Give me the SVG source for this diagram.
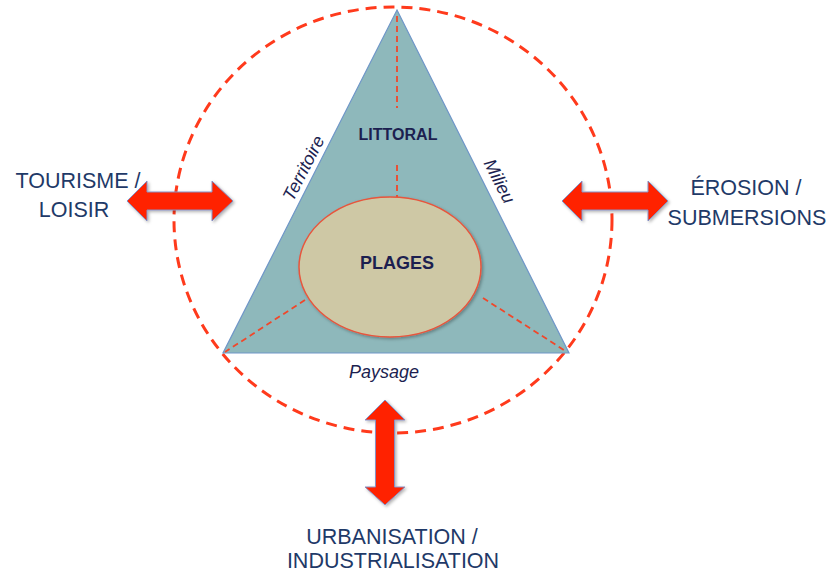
<svg xmlns="http://www.w3.org/2000/svg" width="828" height="574" viewBox="0 0 828 574">
<defs>
<filter id="sh" x="-20%" y="-20%" width="140%" height="140%">
<feDropShadow dx="1.5" dy="1.5" stdDeviation="1.5" flood-color="#000" flood-opacity="0.3"/>
</filter>
<style>
.lbl{font-family:"Liberation Sans",Arial,sans-serif;font-size:21.5px;fill:#1f3a68;text-anchor:middle}
.in{font-family:"Liberation Sans",Arial,sans-serif;font-weight:bold;fill:#1c1f50;text-anchor:middle}
.side{font-family:"Liberation Sans",Arial,sans-serif;font-style:italic;font-size:18px;fill:#1c1f50;text-anchor:middle}
.arrow{fill:#ff2400;stroke:#8790c4;stroke-width:1;filter:url(#sh)}
.dash{fill:none;stroke:#ff3a1c;stroke-width:3;stroke-dasharray:11 7}
.idash{fill:none;stroke:#f0472a;stroke-width:1.8;stroke-dasharray:6 4}
</style>
</defs>
<rect width="828" height="574" fill="#fff"/>
<g id="circle">
<ellipse class="dash" cx="393" cy="220" rx="219" ry="213"/>
</g>
<g id="littoral">
<polygon points="397,10 569,353 223,353" fill="#8eb8bb" stroke="#6f96c8" stroke-width="1.2"/>
<text class="in" x="398" y="140" font-size="16">LITTORAL</text>
</g>
<g id="connectors">
<line class="idash" x1="397" y1="16" x2="397" y2="108"/>
<line class="idash" x1="397" y1="165" x2="397" y2="197"/>
<line class="idash" x1="305" y1="300" x2="225" y2="352"/>
<line class="idash" x1="483" y1="298" x2="567" y2="352"/>
</g>
<g id="plages">
<ellipse cx="390" cy="267" rx="91" ry="70" fill="#cec8a5" stroke="#e8553c" stroke-width="1.5" filter="url(#sh)"/>
<text class="in" x="397" y="269" font-size="18">PLAGES</text>
</g>
<g id="labels">
<text class="side" transform="translate(309,171) rotate(-63)">Territoire</text>
<text class="side" transform="translate(494,184) rotate(63)">Milieu</text>
<text class="side" x="384" y="378" font-size="17">Paysage</text>
</g>
<g id="tourisme">
<path class="arrow" d="M127,201 L147,181 L147,192 L212,192 L212,181 L233,201 L212,221 L212,210 L147,210 L147,221 Z"/>
<text class="lbl" x="78" y="188">TOURISME /</text>
<text class="lbl" x="74" y="217">LOISIR</text>
</g>
<g id="erosion">
<path class="arrow" d="M562,201 L582,181 L582,192 L648,192 L648,181 L668,201 L648,221 L648,210 L582,210 L582,221 Z"/>
<text class="lbl" x="746" y="195">ÉROSION /</text>
<text class="lbl" x="747" y="225">SUBMERSIONS</text>
</g>
<g id="urbanisation">
<path class="arrow" d="M385,400 L405,420 L394.5,420 L394.5,487 L405,487 L385,505 L365,487 L375.5,487 L375.5,420 L365,420 Z"/>
<text class="lbl" x="392" y="544">URBANISATION /</text>
<text class="lbl" x="393" y="568">INDUSTRIALISATION</text>
</g>
</svg>
